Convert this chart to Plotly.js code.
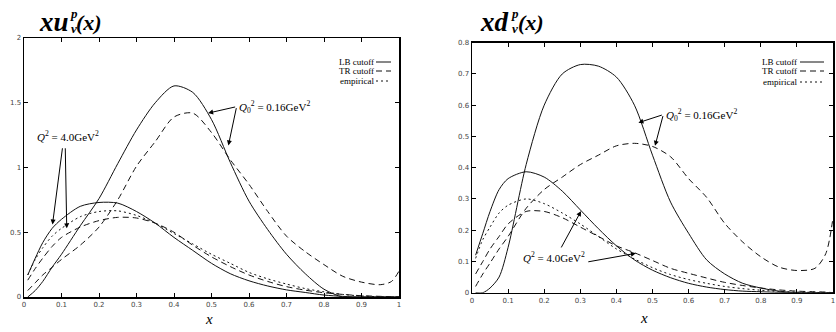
<!DOCTYPE html>
<html>
<head>
<meta charset="utf-8">
<script src="https://cdn.plot.ly/plotly-3.0.1.min.js"></script>
<style>
  body { margin: 0; background: #fff; }
  #chart { width: 836px; height: 332px; }
</style>
</head>
<body>
<div id="chart"></div>
<script>
// x grid shared by all curves
const xGrid = [0.01, 0.03, 0.05, 0.075, 0.1, 0.15, 0.2, 0.25, 0.3, 0.35, 0.4, 0.45,
               0.5, 0.55, 0.6, 0.65, 0.7, 0.75, 0.8, 0.85, 0.9, 0.95, 0.98, 1.0];

// x u_v^p(x)
const uLB0  = [0, 0.05, 0.12, 0.23, 0.33, 0.55, 0.76, 1.03, 1.29, 1.5, 1.63, 1.58,
               1.37, 1.04, 0.74, 0.52, 0.33, 0.18, 0.06, 0, 0, 0, 0, 0];
const uTR0  = [0.05, 0.11, 0.17, 0.23, 0.29, 0.40, 0.54, 0.75, 1.01, 1.2, 1.39, 1.42,
               1.27, 1.06, 0.87, 0.66, 0.47, 0.35, 0.25, 0.16, 0.115, 0.095, 0.12, 0.2];
const uLB4  = [0.17, 0.3, 0.42, 0.53, 0.6, 0.7, 0.73, 0.725, 0.66, 0.57, 0.46, 0.36,
               0.26, 0.18, 0.125, 0.085, 0.055, 0.035, 0.015, 0.005, 0, 0, 0, 0];
const uTR4  = [0.13, 0.22, 0.3, 0.39, 0.46, 0.54, 0.59, 0.615, 0.61, 0.57, 0.5, 0.4,
               0.31, 0.235, 0.17, 0.12, 0.08, 0.053, 0.033, 0.02, 0.01, 0.005, 0.002, 0];
const uEmp  = [0.17, 0.29, 0.38, 0.47, 0.53, 0.62, 0.66, 0.665, 0.63, 0.57, 0.49, 0.41,
               0.33, 0.26, 0.19, 0.14, 0.1, 0.065, 0.04, 0.02, 0.008, 0.002, 0, 0];

// x d_v^p(x)
const dLB0  = [0, 0, 0.015, 0.05, 0.145, 0.41, 0.60, 0.70, 0.73, 0.725, 0.69, 0.6,
               0.44, 0.29, 0.19, 0.105, 0.06, 0.03, 0.015, 0.005, 0, 0, 0, 0];
const dTR0  = [0.02, 0.06, 0.095, 0.14, 0.18, 0.27, 0.33, 0.37, 0.41, 0.44, 0.47, 0.478,
               0.468, 0.435, 0.365, 0.305, 0.222, 0.162, 0.115, 0.082, 0.071, 0.078, 0.125, 0.24];
const dLB4  = [0.12, 0.19, 0.26, 0.33, 0.365, 0.387, 0.37, 0.325, 0.265, 0.205, 0.15, 0.105,
               0.072, 0.048, 0.03, 0.018, 0.01, 0.005, 0.003, 0.001, 0, 0, 0, 0];
const dTR4  = [0.06, 0.1, 0.14, 0.18, 0.22, 0.26, 0.26, 0.24, 0.21, 0.18, 0.15, 0.128,
               0.103, 0.078, 0.062, 0.047, 0.033, 0.023, 0.015, 0.009, 0.005, 0.003, 0.002, 0];
const dEmp  = [0.11, 0.17, 0.21, 0.255, 0.28, 0.30, 0.285, 0.255, 0.22, 0.18, 0.14, 0.108,
               0.08, 0.058, 0.042, 0.03, 0.02, 0.013, 0.008, 0.004, 0.002, 0.001, 0, 0];

const legendNames = ['LB cutoff', 'TR cutoff', 'empirical'];
const dashes = ['solid', '6px,4px', '2px,3px'];

const W = 836, H = 332;
const px = (v) => v / W;
const py = (v) => 1 - v / H;

const curve = (y, dash, ax) => ({
  x: xGrid, y: y, mode: 'lines', xaxis: ax[0], yaxis: ax[1],
  line: {color: '#111', width: 1, dash: dash, shape: 'spline', smoothing: 0.8},
  hoverinfo: 'skip', showlegend: false
});

const L = ['x', 'y'], R = ['x2', 'y2'];
const data = [
  curve(uLB0, dashes[0], L), curve(uTR0, dashes[1], L),
  curve(uLB4, dashes[0], L), curve(uTR4, dashes[1], L), curve(uEmp, dashes[2], L),
  curve(dLB0, dashes[0], R), curve(dTR0, dashes[1], R),
  curve(dLB4, dashes[0], R), curve(dTR4, dashes[1], R), curve(dEmp, dashes[2], R)
];

const tickFont = {family: 'DejaVu Sans', size: 7, color: '#444'};
const axisBase = {
  showline: true, linecolor: '#000', linewidth: 1.5, mirror: 'ticks',
  ticks: 'inside', ticklen: 4, tickcolor: '#000', tickwidth: 1,
  showgrid: false, zeroline: false, tickfont: tickFont, fixedrange: true
};

const layout = {
  width: W, height: H,
  margin: {l: 0, r: 0, t: 0, b: 0},
  paper_bgcolor: '#fff', plot_bgcolor: '#fff',
  showlegend: false,
  xaxis: Object.assign({}, axisBase, {domain: [px(24), px(399)], range: [0, 1], dtick: 0.1, anchor: 'y'}),
  yaxis: Object.assign({}, axisBase, {domain: [py(297), py(38)], range: [0, 2], dtick: 0.5, anchor: 'x'}),
  xaxis2: Object.assign({}, axisBase, {domain: [px(472), px(833)], range: [0, 1], dtick: 0.1, anchor: 'y2'}),
  yaxis2: Object.assign({}, axisBase, {domain: [py(292.7), py(42.7)], range: [0, 0.8], dtick: 0.1, anchor: 'x2'}),
  annotations: [],
  shapes: []
};

const serif = 'Liberation Serif';
const note = (o) => layout.annotations.push(Object.assign(
  {showarrow: false, xref: 'paper', yref: 'paper', xanchor: 'center', yanchor: 'middle', borderpad: 0}, o));

// panel titles, pieced together so sub- and superscript stack
const bi = (size) => ({family: serif, size: size, color: '#000', weight: 'bold', style: 'italic'});
const title = (cMain, cIdx, cArg, main) => {
  note({x: px(cMain), y: py(22), text: main, font: bi(27)});
  note({x: px(cIdx), y: py(14), text: 'p', font: bi(13)});
  note({x: px(cIdx), y: py(29), text: 'v', font: bi(13)});
  note({x: px(cArg), y: py(22), text: '(x)', font: bi(22)});
};
title(54, 74, 89, 'xu');
title(495, 515, 531, 'xd');

// axis titles
note({x: px(209), y: py(319), text: 'x', font: {family: serif, size: 15, color: '#000', style: 'italic'}});
note({x: px(644), y: py(318), text: 'x', font: {family: serif, size: 15, color: '#000', style: 'italic'}});

// legends: text right-aligned, sample line to the right
const legend = (textRight, lineX0, lineX1, rows) => {
  legendNames.forEach((name, i) => {
    note({x: px(textRight), y: py(rows[i]), xanchor: 'right', text: name,
          font: {family: serif, size: 9, color: '#000'}});
    layout.shapes.push({type: 'line', xref: 'paper', yref: 'paper',
      x0: px(lineX0), x1: px(lineX1), y0: py(rows[i]), y1: py(rows[i]),
      line: {color: '#111', width: 1, dash: dashes[i]}});
  });
};
legend(375, 376, 391, [62, 71, 81]);
legend(798, 800, 824, [62, 71, 82]);

// arrows and labels
const arrow = (xr, yr, x, y, ax, ay) => layout.annotations.push({
  xref: xr, yref: yr, axref: xr, ayref: yr, x: x, y: y, ax: ax, ay: ay, text: '',
  showarrow: true, arrowhead: 2, arrowsize: 1, arrowwidth: 1, arrowcolor: '#000'
});
const label = (xr, yr, x, y, text, anchor) => layout.annotations.push({
  xref: xr, yref: yr, x: x, y: y, text: text, showarrow: false, xanchor: anchor || 'left', yanchor: 'middle',
  font: {family: serif, size: 11, color: '#000'}
});

label('x', 'y', 0.568, 1.47, '<i>Q</i><sub>0</sub><sup>2</sup> = 0.16GeV<sup>2</sup>');
arrow('x', 'y', 0.491, 1.42, 0.567, 1.47);
arrow('x', 'y', 0.545, 1.17, 0.567, 1.47);
label('x', 'y', 0.117, 1.24, '<i>Q</i><sup>2</sup> = 4.0GeV<sup>2</sup>', 'center');
arrow('x', 'y', 0.076, 0.56, 0.103, 1.16);
arrow('x', 'y', 0.114, 0.53, 0.11, 1.16);

label('x2', 'y2', 0.531, 0.57, '<i>Q</i><sub>0</sub><sup>2</sup> = 0.16GeV<sup>2</sup>');
arrow('x2', 'y2', 0.461, 0.544, 0.53, 0.57);
arrow('x2', 'y2', 0.507, 0.47, 0.53, 0.57);
label('x2', 'y2', 0.228, 0.115, '<i>Q</i><sup>2</sup> = 4.0GeV<sup>2</sup>', 'center');
arrow('x2', 'y2', 0.302, 0.261, 0.245, 0.14);
arrow('x2', 'y2', 0.454, 0.126, 0.318, 0.098);

Plotly.newPlot('chart', data, layout, {staticPlot: true, displayModeBar: false});
</script>
</body>
</html>
